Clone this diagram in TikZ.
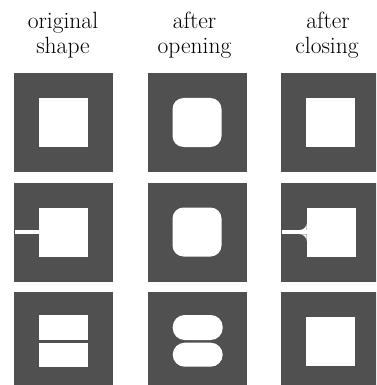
\documentclass[tikz,border=0pt]{standalone}
\usepackage{fontspec}
\definecolor{morphgray}{RGB}{80,80,80}
\begin{document}
\begin{tikzpicture}[x=1pt,y=-1pt,
  lbl/.style={anchor=base,inner sep=0pt,font=\fontsize{23.5}{25}\selectfont},
  frame/.style={fill=morphgray},
  hole/.style={fill=white}]
\useasboundingbox (0,0) rectangle (376,385);
\clip (0,0) rectangle (376,385);

% column headings
\node[lbl] (h1a) at (63,29) {original};
\node[lbl] (h1b) at (63,53.5) {shape};
\node[lbl] (h2a) at (194.5,29) {after};
\node[lbl] (h2b) at (194.5,53.5) {opening};
\node[lbl] (h3a) at (328,29) {after};
\node[lbl] (h3b) at (327,53.5) {closing};

% dark frames (3 x 3)
\foreach \x in {14,147.5,281}
  \foreach \y in {73,182.7,291.7}
    \fill[frame] (\x,\y) rectangle ++(99,99);

% row 1: square hole
\fill[hole] (39,98) rectangle (88,147);
\fill[hole,rounded corners=11] (172.5,98) rectangle (221.5,147);
\fill[hole] (306,98) rectangle (355,147);

% row 2: square hole with a thin slit
\fill[hole] (39,207.5) rectangle (88,256.5);
\fill[hole] (15,230) rectangle (39.5,234);
\fill[hole,rounded corners=11] (172.5,207.5) rectangle (221.5,256.5);
\fill[hole] (306.5,207.5) rectangle (355.5,256.5);
\fill[hole] (282,230) rectangle (307,234.3);
\fill[hole] (299.7,230) .. controls (303.6,230) and (306.7,226.9) .. (306.7,223)
  -- (306.7,230) -- cycle;
\fill[hole] (299.7,234.3) .. controls (303.6,234.3) and (306.7,237.4) .. (306.7,241.3)
  -- (306.7,234.3) -- cycle;

% row 3: two bars separated by a thin strip
\fill[hole] (39,315) rectangle (88,340);
\fill[hole] (39,343) rectangle (88,367);
\fill[hole,rounded corners=12] (172.7,315) rectangle (222.7,340);
\fill[hole,rounded corners=12] (172.7,342.7) rectangle (222.7,366.7);
\fill[hole] (306,316.7) rectangle (355,366);
\end{tikzpicture}
\end{document}
